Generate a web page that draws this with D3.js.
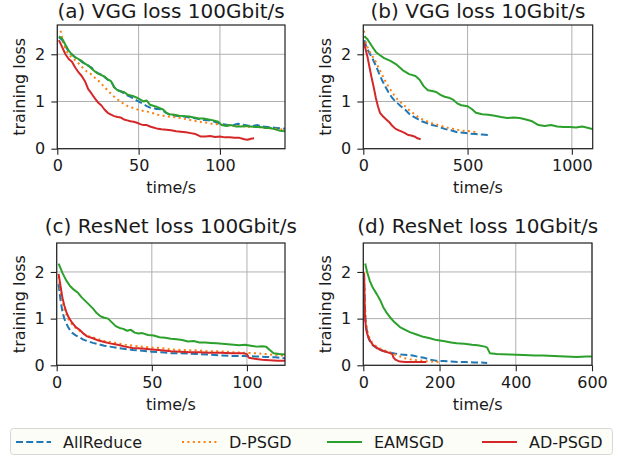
<!DOCTYPE html>
<html>
<head>
<meta charset="utf-8">
<script src="https://d3js.org/d3.v7.min.js"></script>
<style>
  body { margin: 0; background: #fff; }
  svg { display: block; font-family: "DejaVu Sans", sans-serif; }
</style>
</head>
<body>
<div id="chart"></div>
<script>
// series names, in drawing order
const methods = ["AllReduce", "D-PSGD", "EAMSGD", "AD-PSGD"];

// (a) VGG 100Gbit/s  -- [time/s, training loss]
const vgg100AllReduce = [[1,2.36],[3,2.3],[5,2.17],[7,2.06],[9,2.0],[11,1.93],[13,1.9],[15,1.84],[17,1.8],[19,1.76],[21,1.72],[23,1.64],[25,1.6],[27,1.57],[29,1.52],[31,1.46],[33,1.44],[35,1.3],[37,1.24],[39,1.22],[41,1.17],[43,1.13],[45,1.1],[47,1.06],[49,1.02],[51,0.98],[53,0.95],[55,0.9],[57,0.87],[59,0.86],[61,0.84],[63,0.84],[65,0.8],[67,0.76],[69,0.72],[72,0.7],[75,0.69],[78,0.68],[81,0.66],[84,0.65],[87,0.63],[90,0.61],[93,0.6],[96,0.58],[99,0.54],[102,0.52],[105,0.5],[108,0.5],[111,0.53],[114,0.51],[117,0.49],[120,0.48],[123,0.5],[126,0.47],[129,0.46],[132,0.45],[135,0.44],[138,0.43],[140,0.42]];
const vgg100DPSGD = [[2,2.5],[4,2.2],[6,2.05],[8,1.96],[10,1.9],[12,1.84],[14,1.78],[16,1.7],[18,1.64],[20,1.6],[22,1.54],[24,1.47],[26,1.42],[28,1.34],[30,1.27],[32,1.2],[34,1.13],[36,1.07],[38,1.02],[40,0.97],[42,0.93],[44,0.89],[46,0.87],[48,0.85],[50,0.82],[53,0.8],[56,0.78],[59,0.75],[62,0.72],[65,0.7],[68,0.68],[71,0.67],[74,0.66],[77,0.64],[80,0.62],[83,0.6],[86,0.58],[89,0.56],[92,0.55],[95,0.53],[98,0.52],[101,0.51],[104,0.49],[107,0.49],[110,0.48],[113,0.48],[116,0.47],[119,0.46],[122,0.46],[125,0.45],[128,0.44],[131,0.43],[134,0.42],[137,0.41],[140,0.4]];
const vgg100EAMSGD = [[1,2.38],[3,2.33],[5,2.2],[7,2.08],[9,1.99],[11,1.94],[13,1.9],[15,1.86],[17,1.8],[19,1.76],[21,1.7],[23,1.64],[25,1.59],[27,1.56],[29,1.53],[31,1.47],[33,1.43],[35,1.3],[37,1.24],[39,1.21],[41,1.2],[43,1.15],[45,1.13],[47,1.11],[49,1.08],[51,1.04],[53,1.0],[55,1.02],[57,0.93],[59,0.91],[61,0.89],[63,0.86],[65,0.83],[67,0.76],[69,0.73],[72,0.72],[75,0.7],[78,0.69],[81,0.68],[84,0.66],[87,0.64],[90,0.64],[93,0.62],[96,0.6],[99,0.57],[101,0.5],[104,0.48],[107,0.5],[110,0.47],[113,0.47],[116,0.48],[119,0.47],[122,0.46],[125,0.46],[128,0.44],[131,0.44],[134,0.41],[137,0.38],[140,0.37]];
const vgg100ADPSGD = [[1,2.3],[3,2.15],[5,2.0],[7,1.9],[9,1.84],[11,1.72],[13,1.62],[15,1.54],[17,1.43],[19,1.26],[21,1.17],[23,1.07],[25,0.98],[27,0.92],[29,0.83],[31,0.76],[33,0.72],[35,0.69],[37,0.67],[39,0.66],[41,0.62],[43,0.6],[45,0.58],[47,0.57],[49,0.55],[51,0.52],[53,0.5],[55,0.5],[57,0.47],[59,0.45],[61,0.43],[64,0.41],[67,0.4],[70,0.39],[73,0.37],[76,0.36],[79,0.35],[82,0.33],[85,0.31],[88,0.26],[91,0.26],[94,0.27],[97,0.25],[100,0.26],[103,0.24],[106,0.24],[109,0.23],[112,0.23],[115,0.2],[117,0.19],[119,0.21],[121,0.22]];

// (b) VGG 10Gbit/s
const vgg10AllReduce = [[5,2.3],[15,2.15],[30,2.02],[45,1.9],[60,1.76],[75,1.6],[90,1.45],[105,1.32],[120,1.2],[135,1.1],[150,1.02],[165,0.96],[180,0.9],[200,0.83],[220,0.74],[240,0.68],[260,0.63],[280,0.58],[300,0.55],[330,0.5],[360,0.47],[390,0.42],[420,0.39],[450,0.35],[480,0.34],[510,0.32],[540,0.31],[570,0.3],[600,0.29]];
const vgg10DPSGD = [[3,2.5],[15,2.2],[30,2.06],[45,1.95],[60,1.84],[75,1.7],[90,1.57],[105,1.44],[120,1.32],[135,1.22],[150,1.12],[165,1.04],[180,0.98],[200,0.9],[220,0.82],[240,0.75],[260,0.68],[280,0.63],[300,0.59],[330,0.54],[360,0.5],[390,0.46],[420,0.43],[450,0.4],[480,0.38],[510,0.37],[540,0.35]];
const vgg10EAMSGD = [[5,2.38],[20,2.32],[40,2.18],[60,2.05],[80,1.98],[100,1.92],[130,1.86],[160,1.78],[190,1.66],[220,1.58],[250,1.54],[270,1.46],[290,1.32],[310,1.24],[330,1.22],[350,1.2],[370,1.14],[390,1.1],[410,1.08],[430,1.04],[450,0.96],[470,0.92],[500,0.9],[520,0.84],[540,0.76],[570,0.73],[600,0.72],[630,0.7],[660,0.67],[690,0.65],[720,0.66],[750,0.65],[780,0.62],[810,0.58],[840,0.5],[870,0.48],[900,0.5],[930,0.47],[960,0.46],[990,0.46],[1020,0.45],[1050,0.47],[1080,0.44],[1110,0.4]];
const vgg10ADPSGD = [[2,2.25],[10,2.12],[20,1.95],[30,1.72],[40,1.5],[50,1.3],[60,1.08],[70,0.9],[80,0.76],[95,0.68],[110,0.62],[125,0.56],[140,0.48],[155,0.42],[170,0.39],[185,0.36],[200,0.33],[215,0.29],[230,0.28],[245,0.26],[260,0.22],[275,0.2]];

// (c) ResNet 100Gbit/s
const res100AllReduce = [[1,1.74],[2,1.4],[3,1.15],[4,1.0],[5,0.9],[6,0.82],[7,0.75],[8,0.7],[10,0.64],[12,0.6],[14,0.55],[16,0.52],[19,0.48],[22,0.45],[25,0.42],[28,0.4],[32,0.37],[36,0.35],[40,0.33],[45,0.31],[50,0.29],[55,0.28],[60,0.26],[65,0.26],[70,0.25],[75,0.24],[80,0.23],[86,0.21],[92,0.2],[98,0.2],[104,0.19],[110,0.18],[115,0.17],[120,0.15]];
const res100DPSGD = [[1,1.9],[2,1.6],[3,1.38],[4,1.2],[5,1.1],[6,1.0],[7,0.95],[8,0.88],[10,0.8],[12,0.74],[14,0.68],[16,0.63],[19,0.6],[22,0.56],[25,0.52],[28,0.5],[32,0.47],[36,0.44],[40,0.42],[45,0.4],[50,0.38],[55,0.37],[60,0.34],[65,0.33],[70,0.32],[75,0.32],[80,0.3],[86,0.3],[92,0.28],[98,0.27],[104,0.26],[110,0.24],[115,0.22],[120,0.2]];
const res100EAMSGD = [[1,2.18],[2,2.08],[3,1.98],[4,1.9],[5,1.82],[7,1.7],[9,1.62],[11,1.56],[13,1.46],[15,1.38],[17,1.3],[19,1.22],[21,1.12],[23,1.05],[25,1.02],[27,1.0],[29,0.92],[31,0.84],[33,0.8],[35,0.78],[37,0.74],[39,0.76],[41,0.7],[43,0.68],[45,0.69],[48,0.65],[51,0.64],[54,0.6],[57,0.59],[60,0.57],[63,0.56],[66,0.54],[69,0.51],[72,0.52],[75,0.49],[78,0.49],[81,0.48],[84,0.47],[87,0.46],[90,0.45],[93,0.44],[96,0.43],[99,0.44],[102,0.42],[105,0.4],[108,0.41],[110,0.4],[112,0.33],[114,0.26],[117,0.24],[120,0.23]];
const res100ADPSGD = [[1,1.96],[2,1.7],[3,1.45],[4,1.28],[5,1.15],[6,1.05],[7,0.98],[8,0.92],[10,0.82],[12,0.76],[14,0.68],[16,0.62],[19,0.58],[22,0.53],[25,0.5],[28,0.47],[32,0.44],[36,0.4],[40,0.37],[45,0.36],[50,0.34],[55,0.32],[60,0.3],[65,0.29],[70,0.28],[75,0.28],[80,0.27],[86,0.27],[92,0.26],[98,0.26],[100,0.24],[101,0.16],[104,0.14],[108,0.12],[112,0.11],[116,0.1],[120,0.1]];

// (d) ResNet 10Gbit/s
const res10AllReduce = [[2,1.95],[4,1.3],[6,0.95],[9,0.75],[13,0.6],[18,0.5],[26,0.42],[35,0.37],[44,0.33],[55,0.3],[70,0.27],[85,0.25],[100,0.23],[115,0.22],[130,0.21],[145,0.18],[160,0.16],[175,0.12],[190,0.1],[210,0.09],[230,0.08],[250,0.07],[270,0.07],[290,0.06],[310,0.06],[325,0.05]];
const res10DPSGD = [[2,2.0],[4,1.35],[6,1.0],[9,0.8],[13,0.66],[18,0.55],[26,0.46],[35,0.4],[44,0.36],[55,0.32],[70,0.28],[79,0.25],[90,0.2],[100,0.18],[110,0.15],[122,0.13],[140,0.11],[160,0.09],[180,0.08],[200,0.07]];
const res10EAMSGD = [[5,2.18],[10,2.0],[17,1.81],[25,1.66],[35,1.53],[44,1.4],[52,1.25],[60,1.14],[70,1.03],[82,0.92],[96,0.82],[110,0.76],[122,0.71],[140,0.66],[157,0.61],[175,0.58],[192,0.54],[210,0.52],[230,0.49],[245,0.47],[265,0.46],[285,0.44],[300,0.43],[319,0.4],[325,0.38],[332,0.26],[350,0.24],[385,0.23],[420,0.22],[450,0.21],[472,0.21],[500,0.2],[530,0.19],[560,0.18],[585,0.19],[600,0.19]];
const res10ADPSGD = [[2,1.97],[3,1.5],[4.5,1.03],[7,0.8],[10,0.68],[13,0.61],[18,0.52],[26,0.43],[35,0.38],[44,0.33],[55,0.3],[70,0.26],[76,0.24],[79,0.17],[84,0.12],[96,0.08],[110,0.07],[122,0.07],[140,0.07],[162,0.07],[165,0.07]];

const panelTitles = ["(a) VGG loss 100Gbit/s", "(b) VGG loss 10Gbit/s", "(c) ResNet loss 100Gbit/s", "(d) ResNet loss 10Gbit/s"];
const xMax = [140, 1100, 120, 600];
const xTicks = [[0, 50, 100], [0, 500, 1000], [0, 50, 100], [0, 200, 400, 600]];
const yTicks = [0, 1, 2];
const yMax = 2.62;
const panelSeries = [
  [vgg100AllReduce, vgg100DPSGD, vgg100EAMSGD, vgg100ADPSGD],
  [vgg10AllReduce, vgg10DPSGD, vgg10EAMSGD, vgg10ADPSGD],
  [res100AllReduce, res100DPSGD, res100EAMSGD, res100ADPSGD],
  [res10AllReduce, res10DPSGD, res10EAMSGD, res10ADPSGD]
];

// styles per method
const colors = ["#1f77b4", "#ff7f0e", "#2ca02c", "#d62728"];
const dashes = ["7,3.2", "2,3.4", null, null];

class LossChart {

  constructor() {
    this.width = 619;
    this.height = 458;
    // plot boxes: left, right, top, bottom, title baseline
    this.boxes = [
      { l: 57.3, r: 285, t: 25, b: 148.7, title: 17.5 },
      { l: 363.3, r: 592.7, t: 25, b: 148.7, title: 17.5 },
      { l: 56.7, r: 285, t: 243, b: 365.3, title: 233 },
      { l: 363.3, r: 592, t: 243, b: 365.3, title: 233 }
    ];

    this.svg = d3.select("#chart").append("svg")
      .attr("width", this.width)
      .attr("height", this.height);

    this.svg.append("rect")
      .attr("width", this.width)
      .attr("height", this.height)
      .attr("fill", "#fff");

    panelSeries.forEach((series, i) => this.buildPanel(i, series));
    this.buildLegend();
  }

  buildPanel(i, series) {
    const box = this.boxes[i];
    const x = d3.scaleLinear().domain([0, xMax[i]]).range([box.l, box.r]);
    const y = d3.scaleLinear().domain([0, yMax]).range([box.b, box.t]);
    const g = this.svg.append("g");

    g.append("clipPath")
      .attr("id", "clip" + i)
      .append("rect")
      .attr("x", box.l)
      .attr("y", box.t)
      .attr("width", box.r - box.l)
      .attr("height", box.b - box.t);

    // grid
    g.selectAll(".gx")
      .data(xTicks[i])
      .enter()
      .append("line")
      .attr("x1", d => x(d)).attr("x2", d => x(d))
      .attr("y1", box.t).attr("y2", box.b)
      .attr("stroke", "#b0b0b0")
      .attr("stroke-width", 1);
    g.selectAll(".gy")
      .data(yTicks)
      .enter()
      .append("line")
      .attr("x1", box.l).attr("x2", box.r)
      .attr("y1", d => y(d)).attr("y2", d => y(d))
      .attr("stroke", "#b0b0b0")
      .attr("stroke-width", 1);

    const line = d3.line()
      .x(d => x(d[0]))
      .y(d => y(d[1]));

    g.append("g")
      .attr("clip-path", "url(#clip" + i + ")")
      .selectAll("path")
      .data(series)
      .enter()
      .append("path")
      .attr("d", line)
      .attr("fill", "none")
      .attr("stroke", (_, k) => colors[k])
      .attr("stroke-width", 2)
      .attr("stroke-dasharray", (_, k) => dashes[k])
      .attr("stroke-linejoin", "round");

    // axes
    const xAxis = d3.axisBottom(x).tickValues(xTicks[i]).tickFormat(d3.format("d")).tickSize(6).tickPadding(5);
    const yAxis = d3.axisLeft(y).tickValues(yTicks).tickFormat(d3.format("d")).tickSize(6).tickPadding(6);

    const gx = g.append("g")
      .attr("transform", "translate(0," + box.b + ")")
      .call(xAxis);
    const gy = g.append("g")
      .attr("transform", "translate(" + box.l + ",0)")
      .call(yAxis);
    [gx, gy].forEach(a => {
      a.select(".domain").remove();
      a.selectAll("line").attr("stroke", "#222").attr("stroke-width", 1.1);
      a.selectAll("text")
        .attr("fill", "#1a1a1a")
        .style("font-size", "16px")
        .style("font-family", "DejaVu Sans");
    });

    // frame
    g.append("rect")
      .attr("x", box.l)
      .attr("y", box.t)
      .attr("width", box.r - box.l)
      .attr("height", box.b - box.t)
      .attr("fill", "none")
      .attr("stroke", "#222")
      .attr("stroke-width", 1.2);

    const cx = (box.l + box.r) / 2;
    g.append("text")
      .attr("x", cx)
      .attr("y", box.title)
      .attr("text-anchor", "middle")
      .attr("fill", "#1a1a1a")
      .style("font-size", "20px")
      .text(panelTitles[i]);

    g.append("text")
      .attr("x", cx)
      .attr("y", box.b + 44.5)
      .attr("text-anchor", "middle")
      .attr("fill", "#1a1a1a")
      .style("font-size", "16px")
      .text("time/s");

    g.append("text")
      .attr("transform", "translate(" + (box.l - 32) + "," + ((box.t + box.b) / 2) + ") rotate(-90)")
      .attr("text-anchor", "middle")
      .attr("fill", "#1a1a1a")
      .style("font-size", "16px")
      .text("training loss");
  }

  buildLegend() {
    const lg = this.svg.append("g");
    lg.append("rect")
      .attr("x", 10.5)
      .attr("y", 428.5)
      .attr("width", 602)
      .attr("height", 26)
      .attr("rx", 3)
      .attr("fill", "#fdfdf8")
      .attr("stroke", "#d6d6d6")
      .attr("stroke-width", 1);

    const handleX = [16, 182, 327, 482];
    const entries = lg.selectAll(".entry")
      .data(methods)
      .enter()
      .append("g")
      .attr("transform", (_, k) => "translate(" + handleX[k] + ",442)");

    entries.append("line")
      .attr("x1", 0).attr("x2", 35)
      .attr("stroke", (_, k) => colors[k])
      .attr("stroke-width", 2)
      .attr("stroke-dasharray", (_, k) => dashes[k]);

    entries.append("text")
      .attr("x", 47)
      .attr("y", 6)
      .attr("fill", "#1a1a1a")
      .style("font-size", "16px")
      .text(d => d);
  }
}

new LossChart();
</script>
</body>
</html>
